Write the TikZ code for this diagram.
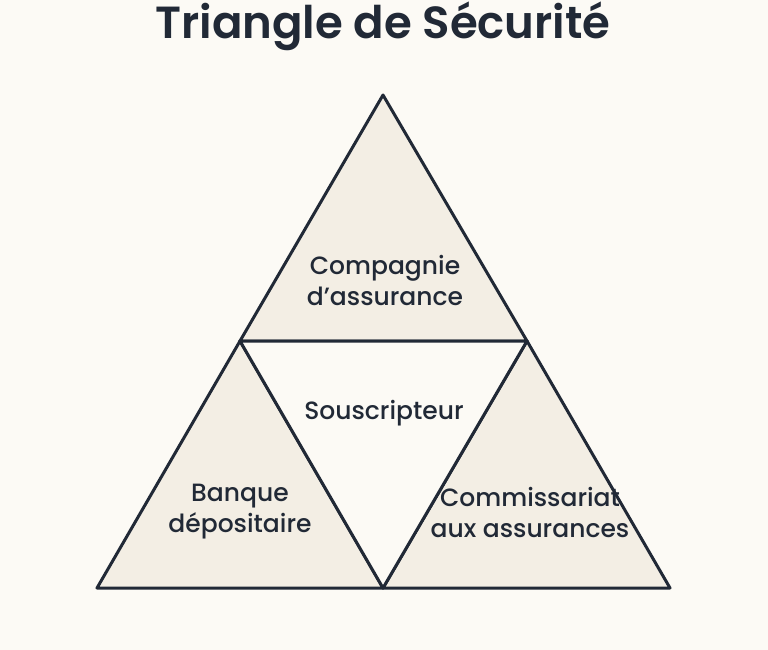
\documentclass[tikz,border=0pt]{standalone}
\usepackage{fontspec}
\setmainfont{Poppins}
\newfontfamily\medfont{Poppins Medium}
\newfontfamily\semifont{Poppins SemiBold}
\definecolor{paper}{RGB}{252,250,245}
\definecolor{beige}{RGB}{243,238,228}
\definecolor{ink}{RGB}{33,41,54}
\begin{document}
\begin{tikzpicture}[x=1pt,y=-1pt,line join=round,
  part/.style={draw=ink,line width=3pt,fill=beige},
  hole/.style={draw=ink,line width=3pt,fill=paper},
  label/.style={text=ink,font=\medfont\fontsize{25}{31}\selectfont,align=center}]
\fill[paper] (0,0) rectangle (768,650);
\useasboundingbox (0,0) rectangle (768,650);
\coordinate (top) at (383,95);
\coordinate (bl) at (97,588);
\coordinate (br) at (670,588);
\coordinate (ml) at (240,341);
\coordinate (mr) at (527,341);
\coordinate (mb) at (383,588);
\node[text=ink,font=\semifont\fontsize{45}{54}\selectfont] (title) at (383,26) {Triangle de Sécurité};
\draw[part] (top) -- (ml) -- (mr) -- cycle;
\draw[part] (ml) -- (bl) -- (mb) -- cycle;
\draw[part] (mr) -- (mb) -- (br) -- cycle;
\draw[hole] (ml) -- (mr) -- (mb) -- cycle;
\node[label] (comp) at (385,280) {Compagnie\\d’assurance};
\node[label] (sous) at (384,413) {Souscripteur};
\node[label] (banq) at (240,512) {Banque\\dépositaire};
\node[label] (comm) at (530,512) {Commissariat\\aux assurances};
\end{tikzpicture}
\end{document}
